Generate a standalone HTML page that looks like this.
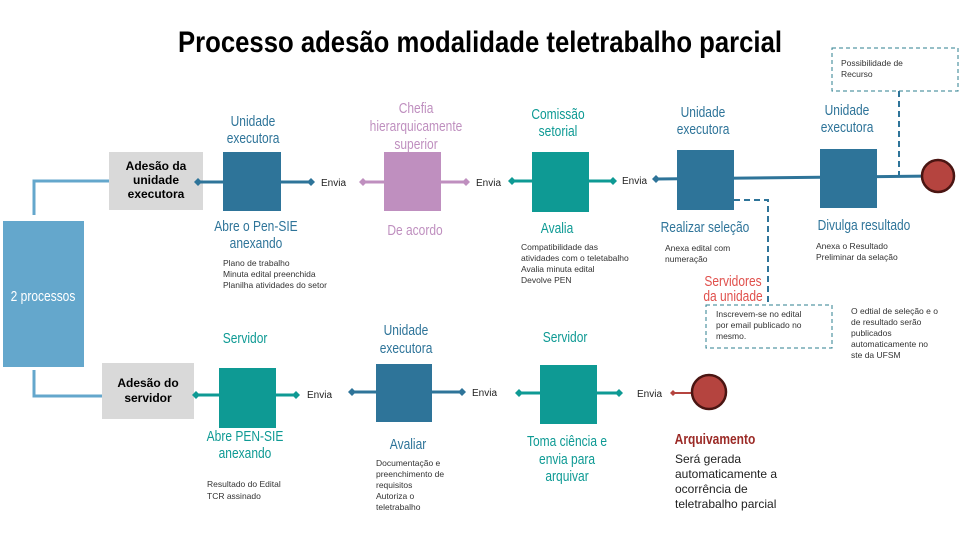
<!DOCTYPE html>
<html><head><meta charset="utf-8"><style>
body{margin:0;background:#fff}
svg{display:block}
text{font-family:"Liberation Sans",sans-serif}
.h{font-size:15px;text-anchor:middle;transform-box:fill-box;transform-origin:center;transform:scaleX(.8)}
.n{font-size:8.5px;fill:#333}
.e{font-size:10px;fill:#222}
.b{fill:#2e7499}.t{fill:#0e9a94}.p{fill:#bf8fbf}
</style></head><body>
<svg width="960" height="540" viewBox="0 0 960 540" xmlns="http://www.w3.org/2000/svg">
<text x="480" y="52" text-anchor="middle" font-size="30" font-weight="bold" fill="#000" textLength="604" lengthAdjust="spacingAndGlyphs">Processo adesão modalidade teletrabalho parcial</text>

<rect x="3" y="221" width="81" height="146" fill="#64a7cc"/>
<text x="43" y="301" class="h" fill="#fff" font-size="16">2 processos</text>
<path d="M34 215V181H113" stroke="#64a7cc" stroke-width="3" fill="none"/>
<path d="M110 181l4-4 4 4-4 4z" fill="#64a7cc"/>
<path d="M34 370V396H102" stroke="#64a7cc" stroke-width="3" fill="none"/>

<rect x="109" y="152" width="94" height="58" fill="#d9d9d9"/>
<text x="156" y="170" text-anchor="middle" font-size="12" font-weight="bold">Adesão da</text>
<text x="156" y="184" text-anchor="middle" font-size="12" font-weight="bold">unidade</text>
<text x="156" y="198" text-anchor="middle" font-size="12" font-weight="bold">executora</text>

<line x1="198" y1="182" x2="311" y2="182" stroke="#2e7499" stroke-width="3"/>
<path d="M194 182l4-4 4 4-4 4zM307 182l4-4 4 4-4 4z" fill="#2e7499"/>
<rect x="223" y="152" width="58" height="59" fill="#2e7499"/>
<text x="321" y="186" class="e">Envia</text>
<text x="253" y="126" class="h b">Unidade</text><text x="253" y="143" class="h b">executora</text>
<text x="256" y="231" class="h b">Abre o Pen-SIE</text><text x="256" y="248" class="h b">anexando</text>
<text x="223" y="266" class="n">Plano de trabalho</text><text x="223" y="277" class="n">Minuta edital preenchida</text><text x="223" y="288" class="n">Planilha atividades do setor</text>

<line x1="363" y1="182" x2="465" y2="182" stroke="#bf8fbf" stroke-width="3"/>
<path d="M359 182l4-4 4 4-4 4zM462 182l4-4 4 4-4 4z" fill="#bf8fbf"/>
<rect x="384" y="152" width="57" height="59" fill="#bf8fbf"/>
<text x="476" y="186" class="e">Envia</text>
<text x="416" y="113" class="h p">Chefia</text><text x="416" y="131" class="h p">hierarquicamente</text><text x="416" y="149" class="h p">superior</text>
<text x="415" y="235" class="h p">De acordo</text>

<line x1="511" y1="181" x2="612" y2="181" stroke="#0e9a94" stroke-width="3"/>
<path d="M508 181l4-4 4 4-4 4zM609 181l4-4 4 4-4 4z" fill="#0e9a94"/>
<rect x="532" y="152" width="57" height="60" fill="#0e9a94"/>
<text x="622" y="184" class="e">Envia</text>
<text x="558" y="119" class="h t">Comissão</text><text x="558" y="136" class="h t">setorial</text>
<text x="557" y="233" class="h t">Avalia</text>
<text x="521" y="250" class="n">Compatibilidade das</text><text x="521" y="261" class="n">atividades com o teletabalho</text><text x="521" y="272" class="n">Avalia minuta edital</text><text x="521" y="283" class="n">Devolve PEN</text>

<line x1="656" y1="179" x2="935" y2="176" stroke="#2e7499" stroke-width="3"/>
<path d="M652 179l4-4 4 4-4 4z" fill="#2e7499"/>
<rect x="677" y="150" width="57" height="60" fill="#2e7499"/>
<text x="703" y="117" class="h b">Unidade</text><text x="703" y="134" class="h b">executora</text>
<text x="705" y="232" class="h b">Realizar seleção</text>
<text x="665" y="251" class="n">Anexa edital com</text><text x="665" y="262" class="n">numeração</text>
<rect x="820" y="149" width="57" height="59" fill="#2e7499"/>
<text x="847" y="115" class="h b">Unidade</text><text x="847" y="132" class="h b">executora</text>
<text x="864" y="230" class="h b">Divulga resultado</text>
<text x="816" y="249" class="n">Anexa o Resultado</text><text x="816" y="260" class="n">Preliminar da selação</text>
<circle cx="938" cy="176" r="16" fill="#b5443f" stroke="#4a1512" stroke-width="2.5"/>

<rect x="832" y="48" width="126" height="43" fill="none" stroke="#2e7f8f" stroke-dasharray="4 3"/>
<text x="841" y="66" class="n">Possibilidade de</text><text x="841" y="77" class="n">Recurso</text>
<line x1="899" y1="91" x2="899" y2="175" stroke="#2e7499" stroke-width="2" stroke-dasharray="6 4"/>

<path d="M734 200H768V305" stroke="#2e7499" stroke-width="2" stroke-dasharray="6 4" fill="none"/>
<rect x="706" y="305" width="126" height="43" fill="none" stroke="#2e7f8f" stroke-dasharray="4 3"/>
<text x="716" y="317" class="n">Inscrevem-se no edital</text><text x="716" y="328" class="n">por email publicado no</text><text x="716" y="339" class="n">mesmo.</text>
<text x="733" y="286" class="h" fill="#e0504c">Servidores</text><text x="733" y="301" class="h" fill="#e0504c">da unidade</text>
<text x="851" y="314" class="n">O edtial de seleção e o</text><text x="851" y="325" class="n">de resultado serão</text><text x="851" y="336" class="n">publicados</text><text x="851" y="347" class="n">automaticamente no</text><text x="851" y="358" class="n">ste da UFSM</text>

<rect x="102" y="363" width="92" height="56" fill="#d9d9d9"/>
<text x="148" y="387" text-anchor="middle" font-size="12" font-weight="bold">Adesão do</text>
<text x="148" y="402" text-anchor="middle" font-size="12" font-weight="bold">servidor</text>

<line x1="196" y1="395" x2="296" y2="395" stroke="#0e9a94" stroke-width="3"/>
<path d="M192 395l4-4 4 4-4 4zM292 395l4-4 4 4-4 4z" fill="#0e9a94"/>
<rect x="219" y="368" width="57" height="60" fill="#0e9a94"/>
<text x="307" y="398" class="e">Envia</text>
<text x="245" y="343" class="h t">Servidor</text>
<text x="245" y="441" class="h t">Abre PEN-SIE</text><text x="245" y="458" class="h t">anexando</text>
<text x="207" y="487" class="n">Resultado do Edital</text><text x="207" y="499" class="n">TCR assinado</text>

<line x1="352" y1="392" x2="462" y2="392" stroke="#2e7499" stroke-width="3"/>
<path d="M348 392l4-4 4 4-4 4zM458 392l4-4 4 4-4 4z" fill="#2e7499"/>
<rect x="376" y="364" width="56" height="58" fill="#2e7499"/>
<text x="472" y="396" class="e">Envia</text>
<text x="406" y="335" class="h b">Unidade</text><text x="406" y="353" class="h b">executora</text>
<text x="408" y="449" class="h b">Avaliar</text>
<text x="376" y="466" class="n">Documentação e</text><text x="376" y="477" class="n">preenchimento de</text><text x="376" y="488" class="n">requisitos</text><text x="376" y="499" class="n">Autoriza o</text><text x="376" y="510" class="n">teletrabalho</text>

<line x1="519" y1="393" x2="619" y2="393" stroke="#0e9a94" stroke-width="3"/>
<path d="M515 393l4-4 4 4-4 4zM615 393l4-4 4 4-4 4z" fill="#0e9a94"/>
<rect x="540" y="365" width="57" height="59" fill="#0e9a94"/>
<text x="637" y="397" class="e">Envia</text>
<text x="565" y="342" class="h t">Servidor</text>
<text x="567" y="446" class="h t">Toma ciência e</text><text x="567" y="464" class="h t">envia para</text><text x="567" y="481" class="h t">arquivar</text>

<line x1="673" y1="393" x2="692" y2="393" stroke="#b5443f" stroke-width="2"/>
<path d="M670 393l3-3 3 3-3 3z" fill="#b5443f"/>
<circle cx="709" cy="392" r="17" fill="#b5443f" stroke="#4a1512" stroke-width="2.5"/>
<text x="715" y="444" class="h" fill="#9b2a26" font-weight="bold">Arquivamento</text>
<text x="675" y="463" font-size="12" fill="#222">Será gerada</text>
<text x="675" y="478" font-size="12" fill="#222">automaticamente a</text>
<text x="675" y="493" font-size="12" fill="#222">ocorrência de</text>
<text x="675" y="508" font-size="12" fill="#222">teletrabalho parcial</text>
</svg>
</body></html>
